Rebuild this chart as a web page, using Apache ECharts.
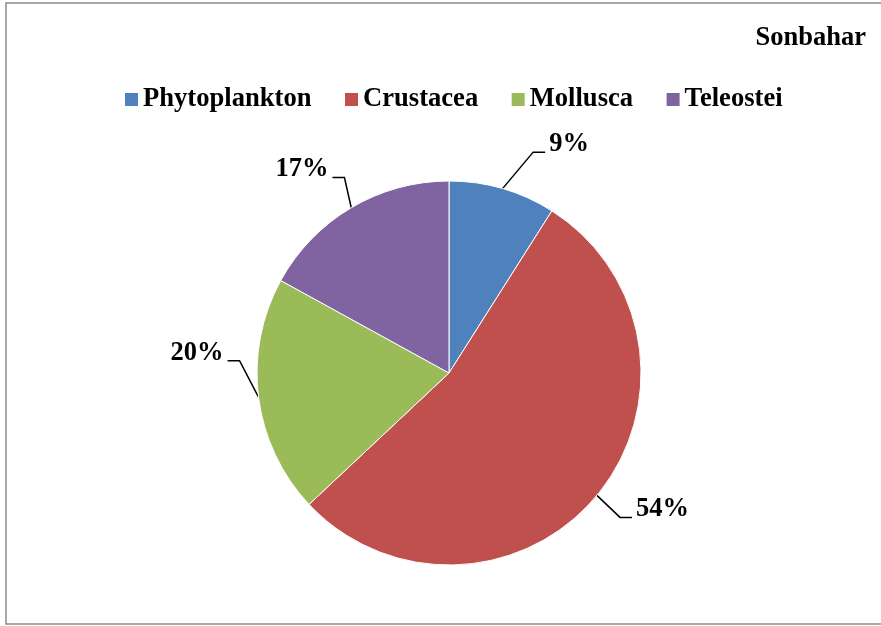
<!DOCTYPE html>
<html>
<head>
<meta charset="utf-8">
<script src="https://cdn.jsdelivr.net/npm/echarts@6/dist/echarts.min.js"></script>
<style>
  html, body { margin: 0; padding: 0; background: #fff; }
  #chart { width: 881px; height: 626px; }
</style>
</head>
<body>
<div id="chart"></div>
<script>
// Autumn (Sonbahar) diet composition, share of each prey group
const titleText = 'Sonbahar';
const categories = ['Phytoplankton', 'Crustacea', 'Mollusca', 'Teleostei'];
const shares = [9, 54, 20, 17];
const colors = ['#4F81BD', '#C0504D', '#9BBB59', '#8064A2'];

// leader lines: [radial part, horizontal part] and a vertical shift of the label end
const leaderLengths = [[38, 32], [34.5, 8.5], [5, 26], [35, 1]];
const leaderShiftY = [0, 0, -37, 0];
const elbowLength = 12;   // short horizontal stub next to each label
const textRaise = 8;      // label text sits on the leader line (baseline level)

const font = '"Liberation Serif", "Times New Roman", serif';

const chart = echarts.init(document.getElementById('chart'), null, { renderer: 'canvas' });

chart.setOption({
  animation: false,
  backgroundColor: '#fff',
  graphic: [{
    type: 'rect',
    shape: { x: 6, y: 3, width: 900, height: 621 },
    style: { fill: 'none', stroke: '#8a8a8a', lineWidth: 1.5 },
    silent: true
  }],
  title: {
    text: titleText,
    right: 10,
    top: 20,
    textStyle: { fontFamily: font, fontWeight: 'bold', fontSize: 26.5, color: '#000' }
  },
  legend: {
    data: categories,
    left: 125,
    top: 86,
    padding: 0,
    itemWidth: 13,
    itemHeight: 13,
    itemGap: 33.5,
    icon: 'rect',
    itemStyle: { borderWidth: 0 },
    textStyle: { fontFamily: font, fontWeight: 'bold', fontSize: 26.6, color: '#000', padding: [0, 0, 0, 0] }
  },
  series: [{
    type: 'pie',
    center: [449, 373],
    radius: 192,
    startAngle: 90,
    clockwise: true,
    avoidLabelOverlap: false,
    itemStyle: { borderColor: '#fff', borderWidth: 1 },
    label: {
      show: true,
      position: 'outside',
      formatter: '{c}%',
      fontFamily: font,
      fontWeight: 'bold',
      fontSize: 26.5,
      color: '#000',
      distanceToLabelLine: 4
    },
    labelLine: {
      show: true,
      lineStyle: { color: '#000', width: 1.5 }
    },
    labelLayout: function (params) {
      const pts = params.labelLinePoints;
      if (!pts || pts.length < 3) return {};
      const shift = leaderShiftY[params.dataIndex] || 0;
      const start = pts[0];
      const end = [pts[2][0], pts[2][1] + shift];
      const dir = end[0] >= start[0] ? 1 : -1;
      const elbow = [end[0] - dir * elbowLength, end[1]];
      return {
        dy: shift - textRaise,
        labelLinePoints: [start.slice(), elbow, end]
      };
    },
    emphasis: { disabled: true },
    data: categories.map((name, i) => ({
      name: name,
      value: shares[i],
      itemStyle: { color: colors[i] },
      labelLine: { length: leaderLengths[i][0], length2: leaderLengths[i][1] }
    }))
  }]
});
</script>
</body>
</html>
